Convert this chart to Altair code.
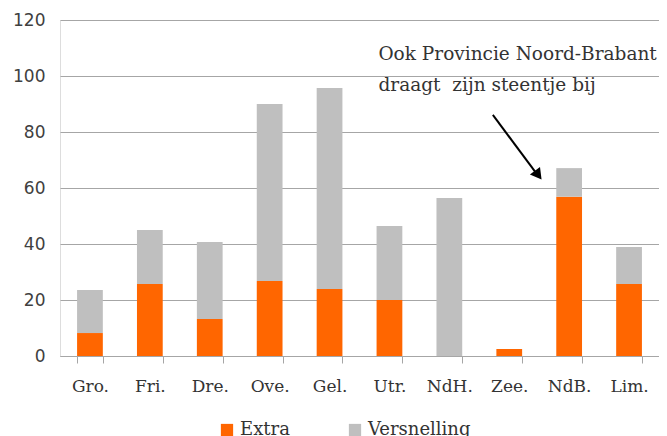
import altair as alt
import pandas as pd

categories = ["Gro.", "Fri.", "Dre.", "Ove.", "Gel.", "Utr.", "NdH.", "Zee.", "NdB.", "Lim."]
extra = [8.2, 25.7, 13.2, 26.8, 23.9, 20.0, 0.0, 2.5, 56.9, 25.7]
versnelling = [15.4, 19.3, 27.5, 63.2, 71.8, 26.4, 56.4, 0.0, 10.2, 13.2]
series = ["Extra", "Versnelling"]
colors = ["#FF6600", "#BFBFBF"]
y_ticks = [0, 20, 40, 60, 80, 100, 120]

rows = []
for i, c in enumerate(categories):
    rows.append({"cat": c, "serie": "Extra", "val": extra[i], "ord": 0})
    rows.append({"cat": c, "serie": "Versnelling", "val": versnelling[i], "ord": 1})
df = pd.DataFrame(rows)

serif = "DejaVu Serif"

xscale = alt.Scale(domain=categories, paddingInner=0.57, paddingOuter=0.285)
yscale = alt.Scale(domain=[0, 120])

bars = alt.Chart(df).mark_bar().encode(
    x=alt.X("cat:N", scale=xscale, sort=categories, title=None,
            axis=alt.Axis(labelAngle=0, labelFont=serif, labelFontSize=17,
                          labelColor="#333333", tickBand="extent", tickSize=7,
                          tickColor="#A6A6A6", domainColor="#A6A6A6",
                          labelPadding=15, grid=False)),
    y=alt.Y("val:Q", scale=yscale, stack="zero", title=None,
            axis=alt.Axis(values=y_ticks, labelFont="DejaVu Sans", labelFontSize=17,
                          labelColor="#404040", domain=False, ticks=False,
                          labelPadding=15, gridColor="#A6A6A6", gridWidth=1)),
    color=alt.Color("serie:N", scale=alt.Scale(domain=series, range=colors),
                    legend=alt.Legend(orient="none", legendX=158, legendY=401,
                                      direction="horizontal", title=None,
                                      symbolType="square", symbolSize=150,
                                      symbolStrokeWidth=0, labelFont=serif,
                                      labelFontSize=18, labelColor="#333333",
                                      columnPadding=56, labelOffset=4)),
    order=alt.Order("ord:Q"),
)

ann = pd.DataFrame({
    "cat": ["Utr.", "Utr."],
    "y": [105.7, 94.6],
    "text": ["Ook Provincie Noord-Brabant", "draagt \u00a0zijn steentje bij"],
})
texts = alt.Chart(ann).mark_text(align="left", baseline="alphabetic", font=serif,
                                 fontSize=18.5, color="#333333", dx=-11).encode(
    x=alt.X("cat:N", scale=xscale, sort=categories),
    y=alt.Y("y:Q", scale=yscale),
    text="text:N",
)

arrow_df = pd.DataFrame({"x": ["NdH."], "x2": ["Zee."], "y": [86.1], "y2": [64.3]})
line = alt.Chart(arrow_df).mark_rule(color="black", strokeWidth=2, xOffset=43.5, x2Offset=29).encode(
    x=alt.X("x:N", scale=xscale, sort=categories),
    x2="x2:N",
    y=alt.Y("y:Q", scale=yscale),
    y2="y2:Q",
)
head_df = pd.DataFrame({"x": ["Zee."], "y": [64.6]})
head = alt.Chart(head_df).mark_point(shape="triangle-up", filled=True, color="black",
                                     size=160, angle=143, xOffset=29, opacity=1).encode(
    x=alt.X("x:N", scale=xscale, sort=categories),
    y=alt.Y("y:Q", scale=yscale),
)

chart = alt.layer(bars, texts, line, head).properties(
    width=599, height=336,
    autosize=alt.AutoSizeParams(type="none"),
    padding={"left": 52, "top": 12, "right": 0, "bottom": 80},
).configure_view(stroke=None).configure(background="white")

chart.save("out.html", embed_options={"renderer": "svg", "actions": False})
